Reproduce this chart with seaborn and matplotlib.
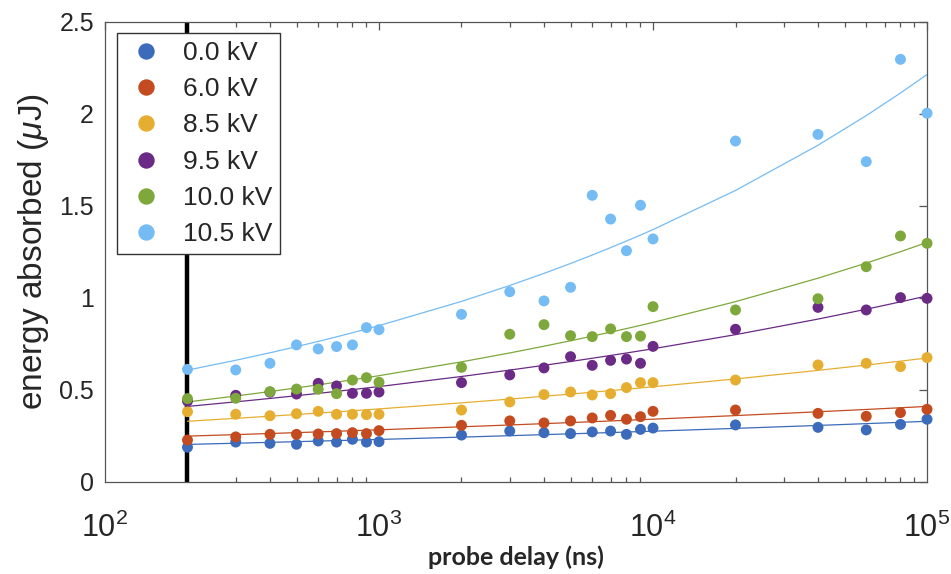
import numpy as np
import pandas as pd
import matplotlib
matplotlib.use("Agg")
import matplotlib.pyplot as plt
import seaborn as sns

sns.set_theme(style="white")
plt.rcParams['font.family'] = ['Liberation Sans', 'DejaVu Sans']
plt.rcParams['mathtext.fontset'] = 'custom'
plt.rcParams['mathtext.rm'] = 'Liberation Sans'
plt.rcParams['mathtext.it'] = 'Liberation Sans:italic'

# probe delays (ns)
delay = [200, 300, 400, 500, 600, 700, 800, 900, 1000, 2000, 3000, 4000, 5000,
         6000, 7000, 8000, 9000, 10000, 20000, 40000, 60000, 80000, 100000]

labels = ['0.0 kV', '6.0 kV', '8.5 kV', '9.5 kV', '10.0 kV', '10.5 kV']
colors = ['#3B6BBA', '#C44B1F', '#E6AE31', '#6A2A85', '#7EA83B', '#75BCF5']

e_00 = [0.189, 0.217, 0.210, 0.205, 0.223, 0.217, 0.232, 0.217, 0.219, 0.255, 0.277, 0.268,
        0.263, 0.272, 0.277, 0.259, 0.286, 0.293, 0.310, 0.297, 0.283, 0.313, 0.341]
e_60 = [0.228, 0.245, 0.259, 0.259, 0.261, 0.263, 0.268, 0.263, 0.279, 0.308, 0.332, 0.321,
        0.332, 0.348, 0.362, 0.341, 0.355, 0.384, 0.391, 0.373, 0.357, 0.377, 0.395]
e_85 = [0.382, 0.368, 0.360, 0.371, 0.384, 0.368, 0.368, 0.366, 0.368, 0.391, 0.435, 0.475,
        0.489, 0.473, 0.480, 0.513, 0.540, 0.540, 0.554, 0.636, 0.645, 0.627, 0.676]
e_95 = [0.440, 0.471, 0.488, 0.478, 0.536, 0.522, 0.482, 0.482, 0.489, 0.540, 0.582, 0.620,
        0.681, 0.634, 0.661, 0.668, 0.645, 0.737, 0.830, 0.949, 0.935, 1.002, 0.998]
e_100 = [0.453, 0.455, 0.491, 0.505, 0.504, 0.480, 0.554, 0.567, 0.542, 0.623, 0.803, 0.855,
         0.795, 0.790, 0.832, 0.790, 0.793, 0.953, 0.935, 0.996, 1.170, 1.337, 1.297]
e_105 = [0.612, 0.609, 0.645, 0.745, 0.723, 0.736, 0.745, 0.839, 0.828, 0.911, 1.034, 0.984,
         1.058, 1.558, 1.429, 1.257, 1.504, 1.321, 1.853, 1.889, 1.741, 2.297, 2.004]

series = [e_00, e_60, e_85, e_95, e_100, e_105]


def power_fit(x, y):
    # least squares fit of y = a * x^b (b by grid search, a in closed form)
    best = None
    for b in np.linspace(0.0, 0.6, 3001):
        xb = x ** b
        a = np.sum(y * xb) / np.sum(xb * xb)
        err = np.sum((y - a * xb) ** 2)
        if best is None or err < best[0]:
            best = (err, a, b)
    return best[1] * x ** best[2]


rows = []
fit_rows = []
x = np.array(delay, dtype=float)
for lab, vals in zip(labels, series):
    y = np.array(vals)
    yfit = power_fit(x, y)
    for xi, yi, fi in zip(x, y, yfit):
        rows.append((xi, yi, lab))
        fit_rows.append((xi, fi, lab))
df = pd.DataFrame(rows, columns=['delay', 'energy', 'voltage'])
fit = pd.DataFrame(fit_rows, columns=['delay', 'energy', 'voltage'])

fig = plt.figure(figsize=(9.51, 5.74), dpi=100)
ax = fig.add_axes([0.1104, 0.1603, 0.8644, 0.8014])

ax.axvline(200, color='black', lw=3.2, zorder=1)

sns.lineplot(data=fit, x='delay', y='energy', hue='voltage', palette=colors,
             hue_order=labels, lw=0.9, legend=False, ax=ax, estimator=None, sort=True)
sns.scatterplot(data=df, x='delay', y='energy', hue='voltage', palette=colors,
                hue_order=labels, s=62, linewidth=0, ax=ax, zorder=3, clip_on=False)

ax.set_xscale('log')
ax.set_xlim(100, 1e5)
ax.set_ylim(0, 2.5)
ax.set_yticks([0, 0.5, 1, 1.5, 2, 2.5])
ax.set_yticklabels(['0', '0.5', '1', '1.5', '2', '2.5'])

ax.tick_params(axis='both', which='both', direction='in', top=True, right=True,
               color='#555555', width=0.9)
ax.tick_params(axis='both', which='major', length=6)
ax.tick_params(axis='x', which='minor', length=3.5, bottom=True, top=True)
ax.tick_params(axis='y', labelsize=18, pad=8)
ax.tick_params(axis='x', labelsize=22, pad=22)
for sp in ax.spines.values():
    sp.set_color('#555555')
    sp.set_linewidth(0.9)

ax.set_ylabel('energy absorbed ($\\mu$J)', fontsize=24, labelpad=6)
ax.set_xlabel('probe delay (ns)', fontsize=18, fontweight='bold',
              family=['Lato', 'DejaVu Sans'], labelpad=1)

handles, labs = ax.get_legend_handles_labels()
leg = ax.legend(handles, labs, loc='upper left', bbox_to_anchor=(0.0146, 0.976),
                borderaxespad=0, fontsize=19, frameon=True, fancybox=False,
                labelspacing=0.465, handletextpad=0.6, borderpad=0.3,
                handlelength=1.6, markerscale=1.5)
leg.get_frame().set_edgecolor('#333333')
leg.get_frame().set_linewidth(1.0)
leg.get_frame().set_alpha(1)
leg.set_zorder(5)

fig.savefig('out.png', dpi=100)
